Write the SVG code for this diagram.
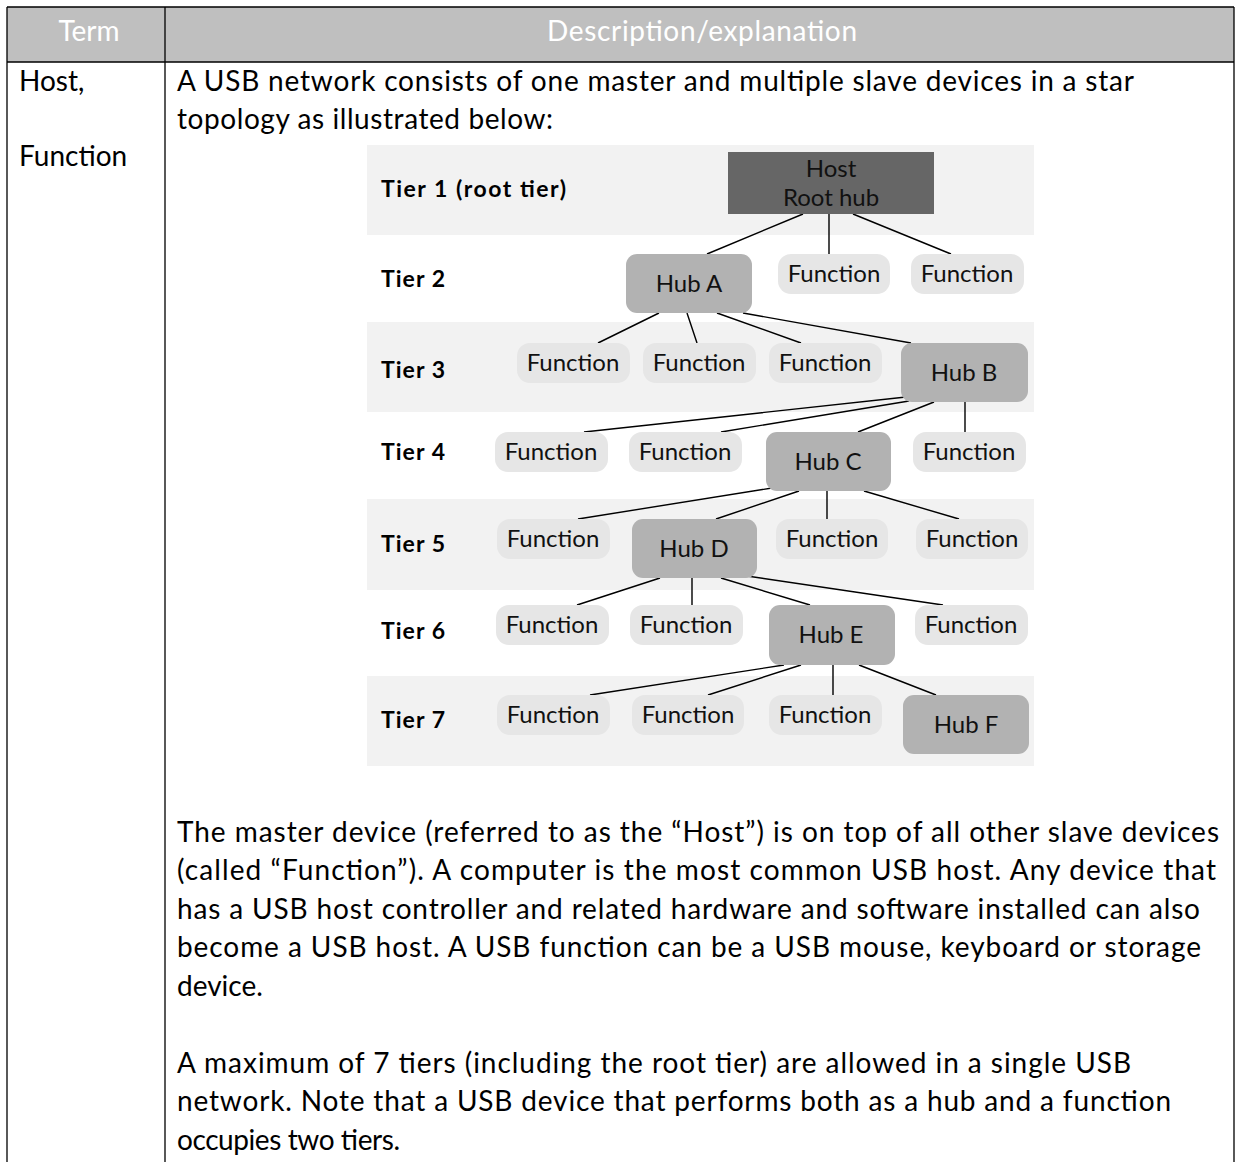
<svg xmlns="http://www.w3.org/2000/svg" width="1238" height="1162" viewBox="0 0 1238 1162">
<style>
.body{font-family:Lato,"Noto Sans","Liberation Sans",sans-serif;font-size:28px;fill:#000}
.hdr{font-family:Lato,"Noto Sans","Liberation Sans",sans-serif;font-size:28px;fill:#fff;text-anchor:middle}
.tier{font-family:Lato,"Noto Sans","Liberation Sans",sans-serif;font-size:23px;font-weight:bold;fill:#000}
.nt{font-family:Lato,"Noto Sans","Liberation Sans",sans-serif;font-size:24px;fill:#111;text-anchor:middle}
.band{fill:#f2f2f2}
.fn{fill:#e6e6e6}
.hub{fill:#b2b2b2}
.host{fill:#666666}
.tl{stroke:#000;stroke-width:1.3;fill:none}
.cn{stroke:#000;stroke-width:1.4;fill:none}
</style>
<rect x="0" y="0" width="1238" height="1162" fill="#fff"/>
<g id="table">
<rect x="7" y="7" width="1227" height="55" fill="#bfbfbf"/>
<path class="tl" d="M7,7 H1234 M7,62 H1234 M7,7 V1162 M165,7 V1162 M1234,7 V1162"/>
<text class="hdr" x="89" y="41">Term</text>
<text class="hdr" x="702" y="41" textLength="310">Description/explanation</text>
<text class="body" x="19" y="91">Host,</text>
<text class="body" x="19" y="166">Function</text>
<text class="body" x="177" y="91" textLength="957">A USB network consists of one master and multiple slave devices in a star</text>
<text class="body" x="177" y="129" textLength="376">topology as illustrated below:</text>
<text class="body" x="177" y="842" textLength="1042">The master device (referred to as the “Host”) is on top of all other slave devices</text>
<text class="body" x="177" y="880" textLength="1039">(called “Function”). A computer is the most common USB host. Any device that</text>
<text class="body" x="177" y="919" textLength="1023">has a USB host controller and related hardware and software installed can also</text>
<text class="body" x="177" y="957" textLength="1024">become a USB host. A USB function can be a USB mouse, keyboard or storage</text>
<text class="body" x="177" y="996">device.</text>
<text class="body" x="177" y="1073" textLength="954">A maximum of 7 tiers (including the root tier) are allowed in a single USB</text>
<text class="body" x="177" y="1111" textLength="994">network. Note that a USB device that performs both as a hub and a function</text>
<text class="body" x="177" y="1150" textLength="223">occupies two tiers.</text>
</g>
<g id="tiers">
<rect class="band" x="367" y="145" width="667" height="90"/>
<rect class="band" x="367" y="322" width="667" height="90"/>
<rect class="band" x="367" y="499" width="667" height="91"/>
<rect class="band" x="367" y="676" width="667" height="90"/>
<text class="tier" x="381" y="197" textLength="185">Tier 1 (root tier)</text>
<text class="tier" x="381" y="287" textLength="64">Tier 2</text>
<text class="tier" x="381" y="378" textLength="64">Tier 3</text>
<text class="tier" x="381" y="460" textLength="64">Tier 4</text>
<text class="tier" x="381" y="552" textLength="64">Tier 5</text>
<text class="tier" x="381" y="639" textLength="64">Tier 6</text>
<text class="tier" x="381" y="728" textLength="64">Tier 7</text>
</g>
<g id="connectors">
<path class="cn" d="M803,214 L707,254 M829,214 L829,254 M853,214 L951,254"/>
<path class="cn" d="M659,313 L598,343 M687,313 L697,343 M717,313 L801,343 M743,313 L911,343"/>
<path class="cn" d="M906,397 L584,432 M909,401 L721,432 M934,402 L858,432 M965,402 L965,432"/>
<path class="cn" d="M772,488 L578,519 M799,491 L716,519 M827,491 L827,519 M864,491 L959,519"/>
<path class="cn" d="M660,578 L577,605 M692,578 L692,605 M721,578 L810,605 M747,576 L943,605"/>
<path class="cn" d="M784,665 L590,695 M801,665 L708,695 M833,665 L833,695 M859,665 L936,695"/>
</g>
<g id="host"><rect class="host" x="728" y="152" width="206" height="62"/><text class="nt" x="831" y="177">Host</text><text class="nt" x="831" y="206">Root hub</text></g>
<g id="hubA"><rect class="hub" x="626" y="254" width="126" height="59" rx="11"/><text class="nt" x="689" y="292">Hub A</text></g>
<g id="t2f1"><rect class="fn" x="778" y="254" width="112" height="40" rx="13"/><text class="nt" x="834" y="282">Function</text></g>
<g id="t2f2"><rect class="fn" x="911" y="254" width="113" height="40" rx="13"/><text class="nt" x="967" y="282">Function</text></g>
<g id="t3f1"><rect class="fn" x="517" y="343" width="113" height="40" rx="13"/><text class="nt" x="573" y="371">Function</text></g>
<g id="t3f2"><rect class="fn" x="643" y="343" width="113" height="40" rx="13"/><text class="nt" x="699" y="371">Function</text></g>
<g id="t3f3"><rect class="fn" x="769" y="343" width="113" height="40" rx="13"/><text class="nt" x="825" y="371">Function</text></g>
<g id="hubB"><rect class="hub" x="901" y="343" width="127" height="59" rx="11"/><text class="nt" x="964" y="381">Hub B</text></g>
<g id="t4f1"><rect class="fn" x="495" y="432" width="113" height="40" rx="13"/><text class="nt" x="551" y="460">Function</text></g>
<g id="t4f2"><rect class="fn" x="629" y="432" width="113" height="40" rx="13"/><text class="nt" x="685" y="460">Function</text></g>
<g id="hubC"><rect class="hub" x="766" y="432" width="125" height="59" rx="11"/><text class="nt" x="828" y="470">Hub C</text></g>
<g id="t4f3"><rect class="fn" x="913" y="432" width="113" height="40" rx="13"/><text class="nt" x="969" y="460">Function</text></g>
<g id="t5f1"><rect class="fn" x="497" y="519" width="113" height="40" rx="13"/><text class="nt" x="553" y="547">Function</text></g>
<g id="hubD"><rect class="hub" x="632" y="519" width="125" height="59" rx="11"/><text class="nt" x="694" y="557">Hub D</text></g>
<g id="t5f2"><rect class="fn" x="776" y="519" width="112" height="40" rx="13"/><text class="nt" x="832" y="547">Function</text></g>
<g id="t5f3"><rect class="fn" x="916" y="519" width="112" height="40" rx="13"/><text class="nt" x="972" y="547">Function</text></g>
<g id="t6f1"><rect class="fn" x="496" y="605" width="113" height="40" rx="13"/><text class="nt" x="552" y="633">Function</text></g>
<g id="t6f2"><rect class="fn" x="630" y="605" width="113" height="40" rx="13"/><text class="nt" x="686" y="633">Function</text></g>
<g id="hubE"><rect class="hub" x="769" y="605" width="126" height="60" rx="11"/><text class="nt" x="831" y="643">Hub E</text></g>
<g id="t6f3"><rect class="fn" x="915" y="605" width="113" height="40" rx="13"/><text class="nt" x="971" y="633">Function</text></g>
<g id="t7f1"><rect class="fn" x="497" y="695" width="113" height="40" rx="13"/><text class="nt" x="553" y="723">Function</text></g>
<g id="t7f2"><rect class="fn" x="632" y="695" width="112" height="40" rx="13"/><text class="nt" x="688" y="723">Function</text></g>
<g id="t7f3"><rect class="fn" x="769" y="695" width="113" height="40" rx="13"/><text class="nt" x="825" y="723">Function</text></g>
<g id="hubF"><rect class="hub" x="903" y="695" width="126" height="59" rx="11"/><text class="nt" x="966" y="733">Hub F</text></g>
</svg>
